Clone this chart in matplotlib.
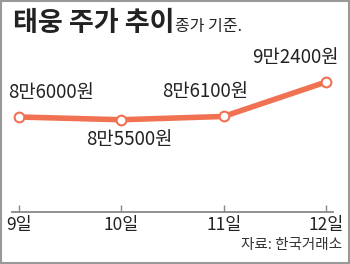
import matplotlib
matplotlib.use("Agg")
import matplotlib.pyplot as plt
from matplotlib.patches import Rectangle

plt.rcParams['font.family'] = ['Noto Sans CJK KR', 'DejaVu Sans']

days = ['9일', '10일', '11일', '12일']
prices = [86000, 85500, 86100, 92400]
labels = ['8만6000원', '8만5500원', '8만6100원', '9만2400원']
# label offsets (points) relative to each point
offsets = [(23, 18), (6, -14), (-13, 18), (-22, 18)]

fig = plt.figure(figsize=(3.5, 2.64), dpi=100)
fig.patch.set_facecolor('white')
ax = fig.add_axes([12/350, 1-212/264, 321/350, 172/264])

x = list(range(len(days)))
ax.plot(x, prices, color='#f07252', lw=4, solid_capstyle='round', zorder=2)
ax.plot(x, prices, 'o', ms=7, mfc='white', mec='#f07252', mew=1.5, zorder=3)

for xi, p, lab, off in zip(x, prices, labels, offsets):
    ax.annotate(lab, (xi, p), xytext=off, textcoords='offset points',
                ha='center', va='center', fontsize=13.5, color='#222222')

ax.set_xlim(-0.068, 3.068)
ax.set_ylim(68630, 100080)
ax.set_xticks(x)
ax.set_xticklabels(days, fontsize=12.5, color='#222222')
ax.set_yticks([])
for s in ['top', 'right', 'left']:
    ax.spines[s].set_visible(False)
ax.spines['bottom'].set_color('#888888')
ax.spines['bottom'].set_linewidth(1.3)
ax.tick_params(axis='x', direction='in', length=5, width=1, color='#888888', pad=3)
ax.patch.set_alpha(0)

fig.text(13/350, 1-23/264, '태웅 주가 추이', fontsize=19.5, fontweight='bold',
         color='#222222', va='center', ha='left')
fig.text(175/350, 1-26/264, '종가 기준.', fontsize=11.5, color='#222222',
         va='center', ha='left')
fig.text(342/350, 1-245/264, '자료: 한국거래소', fontsize=10.5, color='#333333',
         va='center', ha='right')

fig.patches.append(Rectangle((0.002, 0.003), 0.996, 0.994, transform=fig.transFigure,
                             fill=False, edgecolor='#999999', lw=1.5))

fig.savefig('out.png', dpi=100)
